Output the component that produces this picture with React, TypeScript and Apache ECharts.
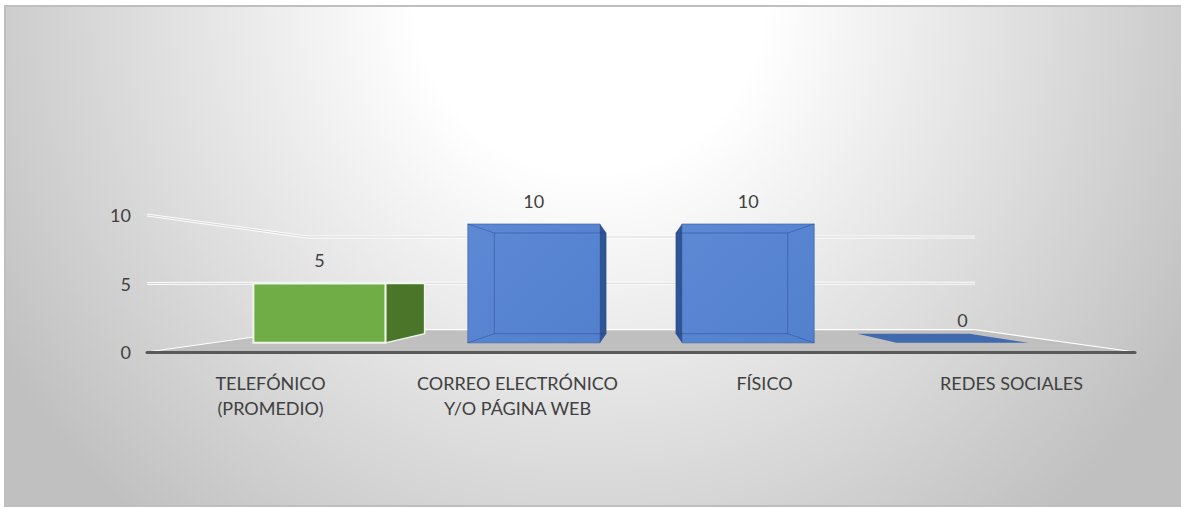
import React, { useEffect, useRef } from "react";
import * as echarts from "echarts";

// ---- data ----
const categories = [
  "TELEFÓNICO\n(PROMEDIO)",
  "CORREO ELECTRÓNICO\nY/O PÁGINA WEB",
  "FÍSICO",
  "REDES SOCIALES",
];
const values = [5, 10, 10, 0];
const wallTicks = [5, 10];

// ---- styles ----
const faceColors = ["#70AD47", "#5C88D4", "#5C88D4", "#4169AD"];
const faceColorsLow = ["#70AD47", "#5380CD", "#5380CD", "#4169AD"];
const sideColors = ["#4B7529", "#2F5597", "#2F5597", "#2F5597"];
const topColors = ["#8CC168", "#4A73B8", "#4A73B8", "#4169AD"];
const faceBorders = ["#EEF5EA", "rgba(47,85,151,0.55)", "rgba(47,85,151,0.55)", "rgba(0,0,0,0)"];
const innerEdgeAlpha = [0, 0.4, 0.4, 0];

const TEXT = "#404040";
const FONT = "Lato";
const EYE = 5.05; // eye level (value) for perspective
const S_FRONT = 0.868; // bar front plane scale
const S_BACK = 0.735; // bar back plane scale
const S_WALL = 0.676; // back wall scale
const BAR_HALF = 0.308; // half bar width, fraction of band

function App() {
  const ref = useRef<HTMLDivElement>(null);

  useEffect(() => {
    if (!ref.current) return;
    const chart = echarts.init(ref.current, null, { renderer: "svg" });

    const persp = (params: any, api: any) => {
      const cs = params.coordSys;
      const vx = cs.x + cs.width / 2;
      const vy = api.coord([0, EYE])[1];
      const P = (x: number, y: number, s: number) => [vx + (x - vx) * s, vy + (y - vy) * s];
      return { cs, vx, vy, P };
    };

    const renderFloor = (params: any, api: any) => {
      const { cs, P } = persp(params, api);
      const L = cs.x;
      const R = cs.x + cs.width;
      const y0 = api.coord([0, 0])[1];
      const children: any[] = [];
      children.push({
        type: "polygon",
        shape: { points: [[L, y0], [R, y0], P(R, y0, S_WALL), P(L, y0, S_WALL)] },
        style: { fill: "#BFBFBF", stroke: "#FFFFFF", lineWidth: 1.2 },
      });
      wallTicks.forEach((t) => {
        const y = api.coord([0, t])[1];
        const pts = [[L, y], P(L, y, S_WALL), P(R, y, S_WALL)];
        children.push({
          type: "polyline",
          shape: { points: pts },
          style: { stroke: "rgba(255,255,255,0.9)", lineWidth: 3, fill: null },
        });
        children.push({
          type: "polyline",
          shape: { points: pts },
          style: { stroke: "#D6D6D6", lineWidth: 1, fill: null },
        });
      });
      return { type: "group", children };
    };

    const renderBar = (params: any, api: any) => {
      const idx = params.dataIndex;
      const { vx, vy, P } = persp(params, api);
      const i = api.value(0);
      const v = api.value(1);
      const c0 = api.coord([i, 0]);
      const c1 = api.coord([i, v]);
      const bw = api.size([1, 0])[0];
      const xa = c0[0] - bw * BAR_HALF;
      const xb = c0[0] + bw * BAR_HALF;
      const yb = c0[1];
      const yt = c1[1];
      const children: any[] = [];
      const lightStroke = idx === 0 ? faceBorders[0] : "rgba(0,0,0,0)";

      // top face (visible when below eye level)
      if (yt > vy + 0.5) {
        children.push({
          type: "polygon",
          shape: { points: [P(xa, yt, S_FRONT), P(xb, yt, S_FRONT), P(xb, yt, S_BACK), P(xa, yt, S_BACK)] },
          style: { fill: topColors[idx] },
        });
      }
      // side face
      if (yb - yt > 0.5) {
        if (P(xb, yb, S_FRONT)[0] < vx) {
          children.push({
            type: "polygon",
            shape: { points: [P(xb, yt, S_FRONT), P(xb, yt, S_BACK), P(xb, yb, S_BACK), P(xb, yb, S_FRONT)] },
            style: { fill: sideColors[idx], stroke: lightStroke, lineWidth: 1.5 },
          });
        } else if (P(xa, yb, S_FRONT)[0] > vx) {
          children.push({
            type: "polygon",
            shape: { points: [P(xa, yt, S_FRONT), P(xa, yt, S_BACK), P(xa, yb, S_BACK), P(xa, yb, S_FRONT)] },
            style: { fill: sideColors[idx], stroke: lightStroke, lineWidth: 1.5 },
          });
        }
        // front face
        const f0 = P(xa, yt, S_FRONT);
        const f1 = P(xb, yb, S_FRONT);
        children.push({
          type: "rect",
          shape: { x: f0[0], y: f0[1], width: f1[0] - f0[0], height: f1[1] - f0[1] },
          style: {
            fill: new echarts.graphic.LinearGradient(0, 0, 1, 1, [
              { offset: 0, color: faceColors[idx] },
              { offset: 1, color: faceColorsLow[idx] },
            ]),
            stroke: faceBorders[idx],
            lineWidth: idx === 0 ? 2 : 1,
          },
        });
        // back edges seen through the face
        const a = innerEdgeAlpha[idx];
        if (a > 0) {
          const edge = { stroke: `rgba(35,65,130,${a})`, lineWidth: 1, fill: null };
          const b = [P(xa, yt, S_BACK), P(xb, yt, S_BACK), P(xb, yb, S_BACK), P(xa, yb, S_BACK)];
          const f = [P(xa, yt, S_FRONT), P(xb, yt, S_FRONT), P(xb, yb, S_FRONT), P(xa, yb, S_FRONT)];
          children.push({ type: "polygon", shape: { points: b }, style: edge });
          for (let k = 0; k < 4; k++) {
            children.push({
              type: "line",
              shape: { x1: f[k][0], y1: f[k][1], x2: b[k][0], y2: b[k][1] },
              style: edge,
            });
          }
        }
      }
      // value label
      const lp = P(c0[0], yt, S_FRONT);
      children.push({
        type: "text",
        style: {
          text: String(v),
          x: lp[0],
          y: lp[1] - 23,
          align: "center",
          verticalAlign: "middle",
          fontSize: 18,
          fontFamily: FONT,
          fill: TEXT,
        },
      });
      return { type: "group", children };
    };

    chart.setOption({
      animation: false,
      backgroundColor: "#FFFFFF",
      graphic: [
        {
          type: "rect",
          z: -100,
          silent: true,
          shape: { x: 5, y: 6, width: 1190, height: 500 },
          style: {
            fill: new echarts.graphic.RadialGradient(
              590,
              0,
              690,
              [
                { offset: 0, color: "#FFFFFF" },
                { offset: 0.25, color: "#FFFFFF" },
                { offset: 1, color: "#C0C0C0" },
              ],
              true
            ),
            stroke: "#BFBFBF",
            lineWidth: 2,
          },
        },
      ],
      grid: { left: 147, right: 46, top: 215, bottom: 156 },
      xAxis: {
        type: "category",
        data: categories,
        z: 10,
        axisLine: { show: true, lineStyle: { color: "#595959", width: 3 } },
        axisTick: { show: false },
        axisLabel: {
          interval: 0,
          margin: 18,
          fontSize: 18,
          lineHeight: 25,
          fontFamily: FONT,
          color: TEXT,
        },
        splitLine: { show: false },
      },
      yAxis: {
        type: "value",
        min: 0,
        max: 10,
        interval: 5,
        axisLine: { show: false },
        axisTick: { show: false },
        splitLine: { show: false },
        axisLabel: { margin: 16, fontSize: 18, fontFamily: FONT, color: TEXT },
      },
      series: [
        {
          type: "custom",
          z: 1,
          silent: true,
          renderItem: renderFloor,
          data: [[0, 0]],
          encode: { x: 0, y: 1 },
        },
        {
          type: "custom",
          z: 4,
          renderItem: renderBar,
          data: values.map((v, i) => [i, v]),
          encode: { x: 0, y: 1 },
        },
      ],
    });

    return () => chart.dispose();
  }, []);

  return (
    <div
      ref={ref}
      style={{ position: "absolute", left: 0, top: 0, width: 1181, height: 508 }}
    />
  );
}

export default App;
